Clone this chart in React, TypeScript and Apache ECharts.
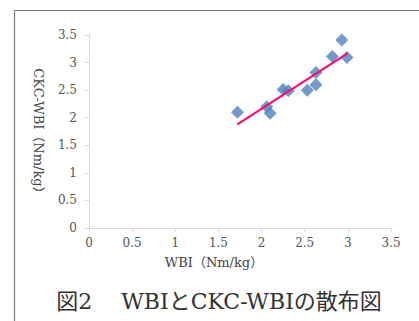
import React, { useEffect, useRef } from "react";
import * as echarts from "echarts";

const wbi = [1.72, 2.06, 2.1, 2.25, 2.31, 2.53, 2.63, 2.63, 2.82, 2.93, 2.99];
const ckcWbi = [2.1, 2.2, 2.08, 2.51, 2.49, 2.5, 2.6, 2.82, 3.11, 3.41, 3.09];
const trendX = [1.72, 3.0];
const trendY = [1.88, 3.17];
const xTitle = "WBI（Nm/kg）";
const yTitle = "CKC-WBI（Nm/kg）";
const figTitle = "図2　 WBIとCKC-WBIの散布図";

const SERIF = "'DejaVu Serif', 'Noto Sans CJK JP', serif";

export default function App() {
  const ref = useRef<HTMLDivElement>(null);
  useEffect(() => {
    if (!ref.current) return;
    const chart = echarts.init(ref.current, null, { renderer: "svg" });
    const axisCommon = {
      type: "value" as const,
      min: 0,
      max: 3.5,
      interval: 0.5,
      axisLine: { show: true, lineStyle: { color: "#d9d9d9", width: 1 } },
      axisTick: { show: true, length: 4, lineStyle: { color: "#d9d9d9" } },
      splitLine: { show: false },
      axisLabel: {
        color: "#555",
        fontFamily: SERIF,
        fontSize: 12,
        formatter: (v: number) => String(v),
      },
    };
    chart.setOption({
      animation: false,
      backgroundColor: "#fff",
      grid: { left: 89, right: 28, top: 35, bottom: 93, containLabel: false },
      xAxis: { ...axisCommon, axisLabel: { ...axisCommon.axisLabel, margin: 9 } },
      yAxis: { ...axisCommon, axisLabel: { ...axisCommon.axisLabel, margin: 12 } },
      graphic: [
        {
          type: "rect",
          shape: { x: 14.5, y: 10.5, width: 420, height: 320 },
          style: { fill: "none", stroke: "#7f7f7f", lineWidth: 1.2 },
          silent: true,
        },
        {
          type: "text",
          x: 214,
          y: 262,
          style: {
            text: xTitle,
            fill: "#444",
            font: `13px ${SERIF}`,
            align: "center",
            verticalAlign: "middle",
          },
        },
        {
          type: "text",
          x: 38,
          y: 134,
          rotation: -Math.PI / 2,
          style: {
            text: yTitle,
            fill: "#444",
            font: `13px ${SERIF}`,
            align: "center",
            verticalAlign: "middle",
          },
        },
        {
          type: "text",
          x: 219,
          y: 301,
          style: {
            text: figTitle,
            fill: "#333",
            font: `22px ${SERIF}`,
            align: "center",
            verticalAlign: "middle",
          },
        },
      ],
      series: [
        {
          type: "scatter",
          symbol: "diamond",
          symbolSize: 13,
          itemStyle: { color: "#4F81BD" },
          data: wbi.map((x, i) => [x, ckcWbi[i]]),
          z: 2,
        },
        {
          type: "line",
          showSymbol: false,
          symbol: "none",
          lineStyle: { color: "#FF0A6C", width: 2.2 },
          data: trendX.map((x, i) => [x, trendY[i]]),
          z: 3,
        },
      ],
    });
    return () => chart.dispose();
  }, []);
  return (
    <div
      ref={ref}
      style={{ position: "absolute", left: 0, top: 0, width: 419, height: 321 }}
    />
  );
}
